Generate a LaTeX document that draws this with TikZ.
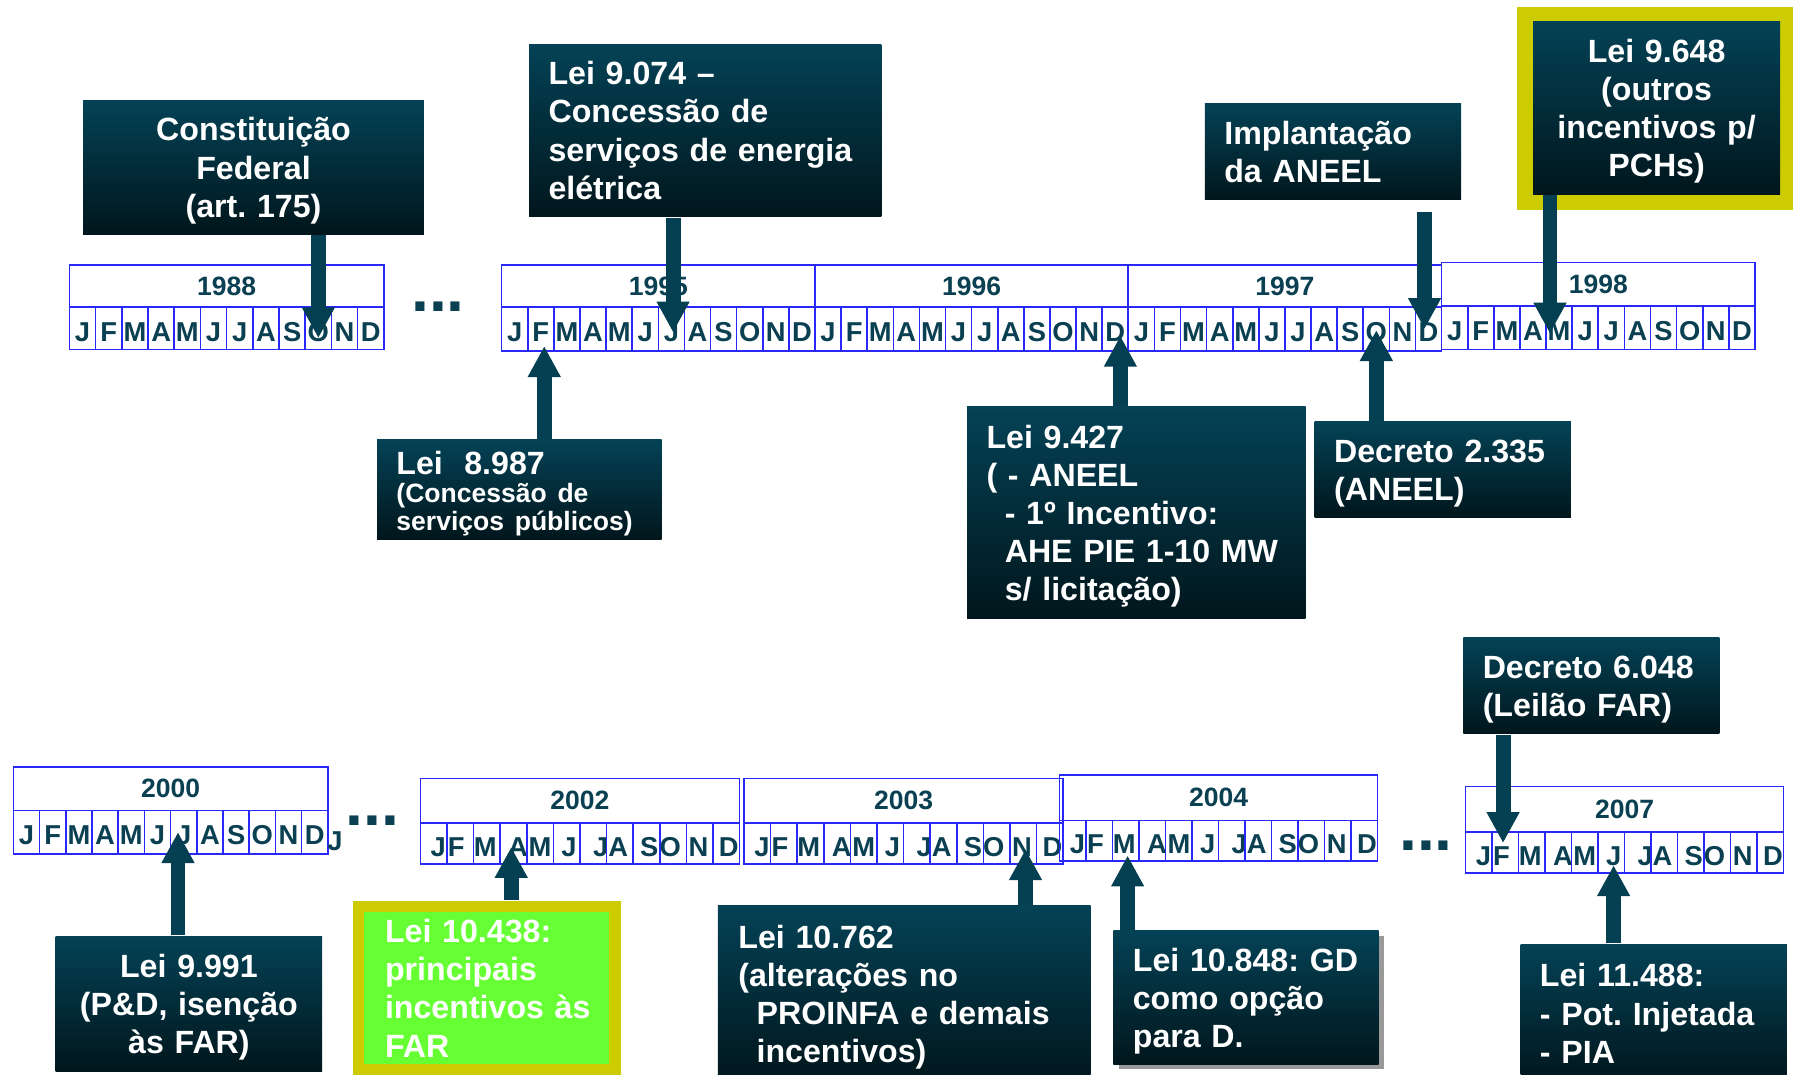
\documentclass[tikz,border=0pt]{standalone}
\usepackage{fontspec}
\setmainfont{Liberation Sans}
\usetikzlibrary{arrows.meta,shadows}

\definecolor{cxtopo}{RGB}{4,66,86}
\definecolor{cxbase}{RGB}{1,22,28}
\definecolor{setacor}{RGB}{4,64,82}
\definecolor{linhaazul}{RGB}{40,40,250}
\definecolor{textoano}{RGB}{10,64,82}
\definecolor{amarelo}{RGB}{204,204,0}
\definecolor{verdelei}{RGB}{102,255,51}

% nome, x, y, largura, alt. ano, alt. meses, ano, deslocamento das letras
\newcommand{\linhaano}[8]{%
  \node[anobox, minimum width=#4*0.1mm, minimum height=#5*0.1mm] (#1) at (#2,#3) {#7};
  \foreach \m [count=\i] in {J,F,M,A,M,J,J,A,S,O,N,D} {
    \pgfmathsetmacro{\dx}{{#8}[\i-1]}
    \node[mescel, minimum width=#4/12*0.1mm, minimum height=#6*0.1mm] (#1-\i) at ({#2+(\i-1)*#4/12},{#3+#5}) {};
    \node[mestxt] (#1-t\i) at ([xshift=\dx*0.1mm, yshift=-0.3mm]#1-\i.center) {\m};
  }
}

\begin{document}
\begin{tikzpicture}[x=0.1mm, y=-0.1mm,
  anobox/.style={draw=linhaazul, line width=0.4pt, anchor=north west, inner sep=0pt, text=textoano, font=\bfseries\fontsize{6.6}{7}\selectfont},
  mescel/.style={draw=linhaazul, line width=0.4pt, anchor=north west, inner sep=0pt},
  mestxt/.style={inner sep=0pt, text=textoano, font=\bfseries\fontsize{6.8}{7}\selectfont},
  pontos/.style={inner sep=0pt, text=textoano, font=\bfseries\fontsize{16}{16}\selectfont},
  texto/.style={text=white, font=\bfseries\fontsize{8}{9.5}\selectfont\frenchspacing, inner xsep=1.7mm, inner ysep=0pt, anchor=north west, align=left},
  caixa/.style={texto, top color=cxtopo, bottom color=cxbase},
  desce/.style={execute at begin node={\rule{0pt}{7.6pt}}},
  moldura/.style={fill=amarelo, anchor=north west, inner sep=0pt},
  seta/.style={line width=1.3mm, draw=setacor, -{Triangle[length=2.7mm, width=2.7mm]}}]
\useasboundingbox (0,0) rectangle (1568,940);

% Linhas do tempo
\linhaano{a88}{60}{231}{275}{37}{37}{1988}{0,0,0,0,0,0,0,0,0,0,0,0}
\linhaano{a95}{438}{231}{274}{37}{38}{1995}{0,0,0,0,0,0,0,0,0,0,0,0}
\linhaano{a96}{712}{231}{274}{37}{38}{1996}{0,0,0,0,0,0,0,0,0,0,0,0}
\linhaano{a97}{986}{231}{274}{37}{38}{1997}{0,0,0,0,0,0,0,0,0,0,0,0}
\linhaano{a98}{1260}{229}{274}{38}{38}{1998}{0,0,0,0,0,0,0,0,0,0,0,0}
\linhaano{a00}{11}{670}{275}{38}{38}{2000}{0,0,0,0,0,0,0,0,0,0,0,0}
\linhaano{a02}{367}{680}{279}{39}{36}{2002}{4,-3.5,-1.5,4,0,2,6.5,-1.5,2.5,-2.5,-1,2.3}
\linhaano{a03}{650}{680}{279}{39}{36}{2003}{4,-3.5,-1.5,4,0,2,6.5,-1.5,2.5,-2.5,-1,2.3}
\linhaano{a04}{926}{677}{278}{40}{35}{2004}{4,-3.5,-1.5,4,0,2,6.5,-1.5,2.5,-2.5,-1,2.3}
\linhaano{a07}{1281}{687}{278}{40}{36}{2007}{4,-3.5,-1.5,4,0,2,6.5,-1.5,2.5,-2.5,-1,2.3}
\node[mestxt] (jx) at (293,736) {J};
\node[pontos] (r1) at (383,268) {...};
\node[pontos] (r2) at (326,718) {...};
\node[pontos] (r3) at (1247,740) {...};

% Caixas de cima
\node[caixa, desce, align=center, text width=26.4mm, minimum height=11.7mm] (cf) at (72,87) {Constituição\\Federal\\(art. 175)};
\node[caixa, text width=27.4mm, minimum height=15.1mm] (l9074) at (462,38) {Lei 9.074 –\\Concessão de\\serviços de energia\\elétrica};
\node[caixa, desce, font=\bfseries\fontsize{8}{7}\selectfont\frenchspacing, text width=21.5mm, minimum height=8.7mm] (l8987) at (329,384) {Lei~~8.987\\{\fontsize{6.6}{7}\selectfont(Concessão de}\\{\fontsize{6.6}{7}\selectfont serviços públicos)}};
\node[caixa, desce, text width=26.2mm, minimum height=18.5mm] (l9427) at (845,355) {Lei 9.427\\( - ANEEL\\\hspace*{1.6mm}- 1º Incentivo:\\\hspace*{1.6mm}AHE PIE 1-10 MW\\\hspace*{1.6mm}s/ licitação)};
\node[caixa, text width=19mm, minimum height=8.4mm] (aneel) at (1053,90) {Implantação\\da ANEEL};
\node[caixa, desce, text width=19mm, minimum height=8.4mm] (d2335) at (1149,368) {Decreto 2.335\\(ANEEL)};
\node[moldura, minimum width=24.2mm, minimum height=17.8mm] (q9648) at (1326,5) {};
\node[caixa, desce, align=center, text width=18.2mm, minimum height=15.1mm] (l9648) at (1340,18) {Lei 9.648\\(outros\\incentivos p/\\PCHs)};

% Caixas de baixo
\node[caixa, desce, align=center, text width=19.9mm, minimum height=11.8mm] (l9991) at (48,818) {Lei 9.991\\(P\&D, isenção\\às FAR)};
\node[moldura, minimum width=23.4mm, minimum height=15.3mm] (q10438) at (308,787) {};
\node[texto, fill=verdelei, inner xsep=1.8mm, text width=17.8mm, minimum height=13.3mm] (l10438) at (318,797) {Lei 10.438:\\principais\\incentivos~às\\FAR};
\node[caixa, desce, inner xsep=1.8mm, text width=29mm, minimum height=15.4mm] (l10762) at (627,791) {Lei 10.762\\(alterações no\\\hspace*{1.6mm}PROINFA e demais\\\hspace*{1.6mm}incentivos)};
\node[caixa, desce, text width=19.8mm, minimum height=11.7mm, drop shadow={shadow xshift=0.45mm, shadow yshift=-0.45mm, fill=gray!80, opacity=1}] (l10848) at (973,813) {Lei 10.848:~GD\\como opção\\para D.};
\node[caixa, desce, text width=19mm, minimum height=8.4mm] (d6048) at (1279,557) {Decreto 6.048\\(Leilão FAR)};
\node[caixa, text width=19.9mm, minimum height=12.1mm] (l11488) at (1329,825) {Lei 11.488:\\- Pot. Injetada\\- PIA};

% Pontas das setas
\coordinate (p88) at ([yshift=-0.85mm]a88-10.center);
\coordinate (p95j) at ([xshift=0.15mm, yshift=-0.3mm]a95-7.center);
\coordinate (p95f) at ([xshift=0.3mm, yshift=-1.5mm]a95-2.center);
\coordinate (p96d) at ([xshift=0.45mm, yshift=-0.6mm]a96-12.center);
\coordinate (p97o) at ([yshift=-0.1mm]a97-10.center);
\coordinate (p97d) at ([xshift=-0.35mm]a97-12.center);
\coordinate (p98m) at ([xshift=-0.8mm, yshift=-0.5mm]a98-5.center);
\coordinate (p00j) at ([xshift=-0.5mm]a00-7.center);
\coordinate (p02a) at ([xshift=-0.2mm, yshift=-0.3mm]a02-4.center);
\coordinate (p03n) at ([xshift=0.2mm, yshift=-0.5mm]a03-11.center);
\coordinate (p04m) at ([xshift=0.15mm, yshift=-1.3mm]a04-3.center);
\coordinate (p07f) at ([xshift=-0.2mm, yshift=0.85mm]a07-2.center);
\coordinate (p07j) at ([xshift=0.2mm, yshift=-1.1mm]a07-6.center);

% Setas
\draw[seta] (cf.south -| p88) -- (p88);
\draw[seta] (l9074.south -| p95j) -- (p95j);
\draw[seta] (l8987.north -| p95f) -- (p95f);
\draw[seta] (l9427.north -| p96d) -- (p96d);
\draw[seta] (d2335.north -| p97o) -- (p97o);
\draw[seta, shorten <=1mm] (aneel.south -| p97d) -- (p97d);
\draw[seta] (l9648.south -| p98m) -- (p98m);
\draw[seta] (l9991.north -| p00j) -- (p00j);
\draw[seta] (q10438.north -| p02a) -- (p02a);
\draw[seta] (l10762.north -| p03n) -- (p03n);
\draw[seta] (l10848.north -| p04m) -- (p04m);
\draw[seta] (d6048.south -| p07f) -- (p07f);
\draw[seta] (l11488.north -| p07j) -- (p07j);
\end{tikzpicture}
\end{document}
